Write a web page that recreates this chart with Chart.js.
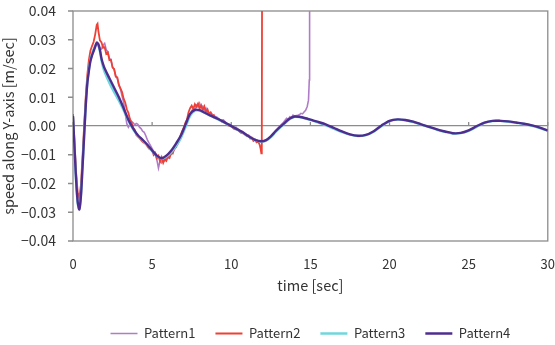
<!DOCTYPE html>
<html>
<head>
<meta charset="utf-8">
<script src="https://cdn.jsdelivr.net/npm/chart.js@4.4.1/dist/chart.umd.min.js"></script>
<style>
  html, body { margin: 0; padding: 0; background: #fff; }
</style>
</head>
<body>
<canvas id="chart" width="555" height="345"></canvas>
<script>
var seriesNames = ['Pattern1', 'Pattern2', 'Pattern3', 'Pattern4'];

// Pattern1 - noisy, blows up just before 15 sec
var time1 = [0, 0.1, 0.2, 0.3, 0.4, 0.5, 0.6, 0.7, 0.8, 0.9, 1.0, 1.1, 1.2, 1.3, 1.4, 1.5, 1.6, 1.7, 1.8, 1.9,
  2.0, 2.1, 2.2, 2.3, 2.4, 2.5, 2.6, 2.7, 2.8, 2.9, 3.0, 3.1, 3.2, 3.3, 3.4, 3.5, 3.6, 3.7, 3.8, 3.9,
  4.0, 4.1, 4.2, 4.3, 4.4, 4.5, 4.6, 4.7, 4.8, 4.9, 5.0, 5.1, 5.2, 5.3, 5.4, 5.5, 5.6, 5.7, 5.8, 5.9,
  6.0, 6.2, 6.4, 6.6, 6.8, 7.0, 7.2, 7.4, 7.5, 7.6, 7.7, 7.8, 7.9, 8.0, 8.1, 8.2, 8.3, 8.4, 8.5, 8.7,
  8.9, 9.1, 9.3, 9.5, 9.7, 9.9, 10.1, 10.3, 10.5, 10.7, 10.9, 11.1, 11.3, 11.5, 11.7, 11.9, 12.1, 12.3,
  12.5, 12.7, 12.9, 13.1, 13.3, 13.5, 13.6, 13.7, 13.8, 13.9, 14.0, 14.1, 14.2, 14.3, 14.4, 14.5, 14.6,
  14.7, 14.8, 14.88, 14.93, 14.95];
var speed1 = [0.0025, -0.009, -0.02, -0.027, -0.0285, -0.0235, -0.0135, -0.003, 0.0075, 0.0155, 0.0198, 0.0232, 0.0252, 0.0268, 0.0279, 0.0288, 0.0282, 0.0272, 0.0268, 0.0281,
  0.0287, 0.0265, 0.0258, 0.0236, 0.0228, 0.0205, 0.0196, 0.0174, 0.0165, 0.0142, 0.0128, 0.0104, 0.0082, 0.0045, 0.0008, -0.0004, 0.0006, 0.0016, 0.0011, 0.0004,
  0.0009, 0.0006, -0.0004, -0.0009, -0.0018, -0.0022, -0.0034, -0.0048, -0.0059, -0.0068, -0.0079, -0.0088, -0.0099, -0.0118, -0.0146, -0.0121, -0.0128, -0.0117, -0.0121, -0.0109,
  -0.0112, -0.0098, -0.0083, -0.0066, -0.0044, -0.0018, 0.0017, 0.0043, 0.0052, 0.0061, 0.0058, 0.0072, 0.0066, 0.0079, 0.0063, 0.0069, 0.0055, 0.0062, 0.0048, 0.0046,
  0.0035, 0.0031, 0.0019, 0.0021, 0.0009, 0.0006, -0.0006, -0.0004, -0.0016, -0.0019, -0.0028, -0.0032, -0.0041, -0.0046, -0.0051, -0.0056, -0.0052, -0.0048,
  -0.0039, -0.0026, -0.0011, 0.0002, 0.0013, 0.0027, 0.0024, 0.0032, 0.0029, 0.0038, 0.0034, 0.0036, 0.0037, 0.0039, 0.0044, 0.0042, 0.0049,
  0.0055, 0.0068, 0.009, 0.016, 0.06];

// Pattern2 - noisy, blows up just before 12 sec
var time2 = [0, 0.1, 0.2, 0.3, 0.4, 0.5, 0.6, 0.7, 0.8, 0.9, 1.0, 1.1, 1.2, 1.3, 1.4, 1.5, 1.55, 1.6, 1.7, 1.8, 1.9,
  2.0, 2.1, 2.2, 2.3, 2.4, 2.5, 2.6, 2.7, 2.8, 2.9, 3.0, 3.1, 3.2, 3.3, 3.4, 3.5, 3.6, 3.7, 3.8, 3.9,
  4.0, 4.2, 4.4, 4.6, 4.8, 5.0, 5.1, 5.2, 5.3, 5.4, 5.5, 5.6, 5.7, 5.8, 5.9, 6.0, 6.1, 6.2, 6.3, 6.4,
  6.5, 6.6, 6.7, 6.8, 6.9, 7.0, 7.1, 7.2, 7.3, 7.4, 7.5, 7.6, 7.7, 7.8, 7.9, 8.0, 8.1, 8.2, 8.3, 8.4,
  8.5, 8.6, 8.7, 8.8, 8.9, 9.0, 9.2, 9.4, 9.6, 9.8, 10.0, 10.2, 10.4, 10.6, 10.8, 11.0, 11.1, 11.2, 11.3,
  11.4, 11.5, 11.6, 11.7, 11.8, 11.85, 11.9, 11.93, 11.95];
var speed2 = [0.0042, -0.006, -0.0165, -0.0232, -0.0252, -0.0205, -0.0108, -0.0002, 0.0098, 0.0175, 0.0228, 0.0262, 0.0278, 0.0292, 0.0318, 0.0352, 0.0356, 0.0332, 0.0298, 0.0291, 0.0272,
  0.0274, 0.0251, 0.0256, 0.0229, 0.0231, 0.0203, 0.0198, 0.0172, 0.0169, 0.0143, 0.0131, 0.0118, 0.0095, 0.0082, 0.0058, 0.0046, 0.0024, 0.0013, -0.0006, -0.0014,
  -0.0031, -0.0042, -0.0055, -0.0063, -0.0079, -0.0086, -0.0101, -0.0094, -0.0112, -0.0104, -0.0123, -0.0109, -0.0128, -0.0115, -0.0121, -0.0106, -0.0111, -0.0094, -0.0096, -0.0078,
  -0.0074, -0.0055, -0.0049, -0.0032, -0.0018, -0.0006, 0.0011, 0.0022, 0.0048, 0.0062, 0.0071, 0.0059, 0.0076, 0.0067, 0.0078, 0.0061, 0.0072, 0.0055, 0.0068, 0.0049,
  0.0058, 0.0041, 0.0047, 0.0034, 0.0038, 0.0027, 0.0025, 0.0015, 0.0012, 0.0002, -0.0001, -0.0011, -0.0013, -0.0023, -0.0027, -0.0036, -0.0034, -0.0044, -0.0041,
  -0.0052, -0.0048, -0.0057, -0.0054, -0.0066, -0.0078, -0.0095, -0.006, 0.06];

// Pattern3 and Pattern4 run the full 30 sec and sit almost on top of each other
var time34 = [0, 0.1, 0.2, 0.3, 0.4, 0.5, 0.6, 0.7, 0.8, 0.9, 1.0, 1.1, 1.2, 1.3, 1.4, 1.5, 1.6, 1.7, 1.8, 1.9,
  2.0, 2.3, 2.6, 2.9, 3.2, 3.5, 3.8, 4.1, 4.4, 4.7, 5.0, 5.3, 5.6, 5.9, 6.2, 6.5, 6.8, 7.1, 7.4, 7.7,
  8.0, 8.3, 8.7, 9.1, 9.5, 9.9, 10.3, 10.7, 11.1, 11.5, 11.9, 12.2, 12.5, 12.8, 13.1, 13.4, 13.7, 14.0, 14.3, 14.7,
  15.0, 15.5, 16.0, 16.5, 17.0, 17.5, 18.0, 18.5, 19.0, 19.5, 20.0, 20.5, 21.0, 21.5, 22.0, 22.5, 23.0, 23.5, 24.0, 24.5,
  25.0, 25.5, 26.0, 26.5, 27.0, 27.5, 28.0, 28.5, 29.0, 29.5, 30.0];
var speed3 = [0.003, -0.0085, -0.0195, -0.027, -0.0288, -0.024, -0.014, -0.0035, 0.007, 0.015, 0.0195, 0.023, 0.025, 0.0265, 0.0278, 0.0287, 0.028, 0.026, 0.0228, 0.0205,
  0.0188, 0.015, 0.0118, 0.0088, 0.0055, 0.0018, -0.0012, -0.0035, -0.005, -0.0067, -0.0087, -0.0104, -0.0113, -0.0106, -0.0092, -0.007, -0.0043, -0.0005, 0.0035, 0.0053,
  0.0054, 0.0046, 0.0035, 0.0025, 0.0014, 0.0002, -0.001, -0.0022, -0.0037, -0.0049, -0.0054, -0.0051, -0.0039, -0.0021, -0.0005, 0.001, 0.0024, 0.0032, 0.0031, 0.0026,
  0.0021, 0.0012, 0.0002, -0.001, -0.0021, -0.003, -0.0035, -0.0032, -0.002, 0.0, 0.0017, 0.0022, 0.002, 0.0014, 0.0005, -0.0004, -0.0013, -0.002, -0.0026, -0.0025,
  -0.0017, -0.0003, 0.0011, 0.0017, 0.0018, 0.0015, 0.0011, 0.0007, 0.0001, -0.0007, -0.0017];
var speed4 = [0.0035, -0.008, -0.019, -0.0265, -0.029, -0.0245, -0.0145, -0.004, 0.0065, 0.0145, 0.019, 0.0225, 0.0245, 0.026, 0.0275, 0.029, 0.0285, 0.0265, 0.0235, 0.0215,
  0.02, 0.0166, 0.0133, 0.01, 0.0062, 0.0022, -0.0008, -0.0032, -0.0048, -0.0065, -0.0085, -0.0103, -0.0112, -0.0103, -0.0086, -0.0062, -0.0035, 0.0004, 0.0042, 0.0056,
  0.0055, 0.0047, 0.0036, 0.0026, 0.0015, 0.0003, -0.0009, -0.0021, -0.0036, -0.0048, -0.0053, -0.0049, -0.0036, -0.0018, -0.0002, 0.0012, 0.0026, 0.0033, 0.0032, 0.0027,
  0.0022, 0.0014, 0.0005, -0.0007, -0.0019, -0.0029, -0.0034, -0.0031, -0.0018, 0.0002, 0.0018, 0.0023, 0.0021, 0.0015, 0.0006, -0.0003, -0.0012, -0.0019, -0.0025, -0.0024,
  -0.0015, -0.0001, 0.0012, 0.0018, 0.0018, 0.0016, 0.0012, 0.0008, 0.0002, -0.0006, -0.0016];

var textColor = '#333333';
var frameColor = '#8c8c8c';
var fontFamily = '"Noto Sans CJK JP", "Noto Sans", sans-serif';

function toPoints(times, speeds) {
  return times.map(function (t, i) {
    return {x: t, y: speeds[i]};
  });
}

function makeDataset(label, times, speeds, color, width, order, tension) {
  return {
    label: label,
    data: toPoints(times, speeds),
    borderColor: color,
    backgroundColor: color,
    borderWidth: width,
    pointRadius: 0,
    pointStyle: 'line',
    tension: tension,
    order: order
  };
}

// box round the plot, short y ticks outside the left edge, x ticks on the zero line
var plotFrame = {
  id: 'plotFrame',
  beforeDatasetsDraw: function (chart) {
    var ctx = chart.ctx;
    var area = chart.chartArea;
    var xScale = chart.scales.x;
    var yScale = chart.scales.y;
    var zeroY = yScale.getPixelForValue(0);
    ctx.save();
    ctx.strokeStyle = frameColor;
    ctx.lineWidth = 1.3;
    ctx.strokeRect(area.left, area.top, area.right - area.left, area.bottom - area.top);
    ctx.beginPath();
    xScale.ticks.forEach(function (tick) {
      var px = xScale.getPixelForValue(tick.value);
      ctx.moveTo(px, zeroY);
      ctx.lineTo(px, zeroY - 4);
    });
    yScale.ticks.forEach(function (tick) {
      var py = yScale.getPixelForValue(tick.value);
      ctx.moveTo(area.left - 5, py);
      ctx.lineTo(area.left, py);
    });
    ctx.stroke();
    ctx.restore();
  }
};

var ctx = document.getElementById('chart').getContext('2d');

var chart = new Chart(ctx, {
  type: 'line',
  data: {
    datasets: [
      makeDataset(seriesNames[0], time1, speed1, '#b07cc8', 1.6, 4, 0),
      makeDataset(seriesNames[1], time2, speed2, '#ee4035', 1.8, 3, 0),
      makeDataset(seriesNames[2], time34, speed3, '#6fd6dc', 2.4, 2, 0.3),
      makeDataset(seriesNames[3], time34, speed4, '#4f2d8f', 2.4, 1, 0.3)
    ]
  },
  options: {
    responsive: false,
    animation: false,
    layout: {
      padding: {top: 11, right: 7, left: 0, bottom: -5}
    },
    plugins: {
      tooltip: {enabled: false},
      legend: {
        position: 'bottom',
        fullSize: false,
        labels: {
          usePointStyle: true,
          pointStyle: 'line',
          pointStyleWidth: 27,
          padding: 20,
          color: textColor,
          font: {family: fontFamily, size: 13},
          sort: function (a, b) {
            return a.datasetIndex - b.datasetIndex;
          }
        }
      }
    },
    scales: {
      x: {
        type: 'linear',
        min: 0,
        max: 30,
        afterFit: function (scale) {
          scale.height = 66;
        },
        ticks: {
          stepSize: 5,
          padding: 0,
          color: textColor,
          font: {family: fontFamily, size: 13}
        },
        // tick length only spaces the labels, the grid itself is hidden
        grid: {display: false, drawTicks: true, tickLength: 15},
        border: {display: false},
        title: {
          display: true,
          text: 'time [sec]',
          color: textColor,
          font: {family: fontFamily, size: 14.5},
          padding: {top: 4, bottom: 13}
        }
      },
      y: {
        min: -0.04,
        max: 0.04,
        afterFit: function (scale) {
          scale.width = 73;
        },
        ticks: {
          stepSize: 0.01,
          padding: 0,
          color: textColor,
          font: {family: fontFamily, size: 14},
          callback: function (value) {
            return (value < -1e-9 ? '\u2212' : '') + Math.abs(value).toFixed(2);
          }
        },
        grid: {
          drawTicks: true,
          tickLength: 17,
          tickColor: 'rgba(0,0,0,0)',
          lineWidth: 1.3,
          color: function (c) {
            return Math.abs(c.tick.value) < 1e-9 ? frameColor : 'rgba(0,0,0,0)';
          }
        },
        border: {display: false},
        title: {
          display: true,
          text: 'speed along Y-axis [m/sec]',
          color: textColor,
          font: {family: fontFamily, size: 14.5},
          padding: {top: 0, bottom: 0}
        }
      }
    }
  },
  plugins: [plotFrame]
});
</script>
</body>
</html>
